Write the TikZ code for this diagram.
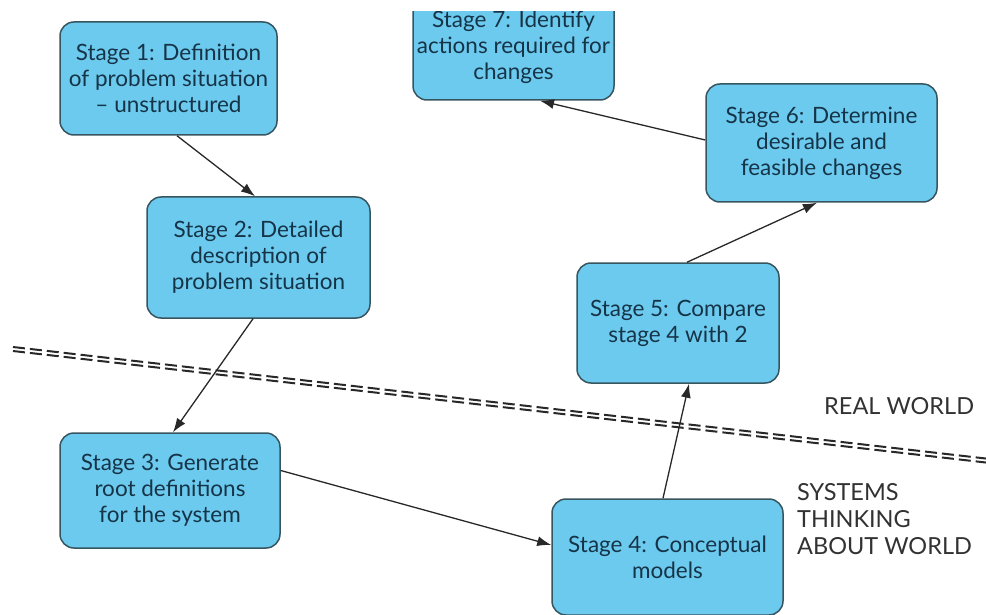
\documentclass[tikz,border=0pt]{standalone}
\usepackage{fontspec}
\setmainfont{Lato}
\usetikzlibrary{arrows.meta}
\definecolor{boxfill}{RGB}{108,202,238}
\definecolor{boxedge}{RGB}{55,85,95}
\definecolor{boxtext}{RGB}{22,52,72}
\definecolor{linkcol}{RGB}{40,40,40}
\definecolor{labelcol}{RGB}{50,50,50}
\begin{document}
\begin{tikzpicture}[x=1pt,y=-1pt,
  stagebox/.style={draw=boxedge, line width=1.5pt, fill=boxfill,
    rounded corners=14pt, align=center, text=boxtext, inner sep=0pt,
    font=\fontsize{22.5}{26}\selectfont},
  link/.style={draw=linkcol, line width=1.3pt,
    -{Latex[length=14pt,width=10pt]}},
  divider/.style={draw=linkcol, line width=2pt, dash pattern=on 12pt off 5pt},
  worldlabel/.style={text=labelcol, inner sep=0pt, align=left,
    font=\fontsize{23.5}{27}\selectfont}]
\useasboundingbox (0,0) rectangle (986,615);

% boundary between the real world and systems thinking
\coordinate (da) at (13,349);
\coordinate (db) at (990,461);
\draw[divider] ([yshift=2pt]da) -- ([yshift=2pt]db);
\draw[divider] ([yshift=-2pt]da) -- ([yshift=-2pt]db);

% the seven stages
\node[stagebox, minimum width=217pt, minimum height=113pt] (s1) at (168.5,78.5)
  {Stage 1: Definition\\of problem situation\\-- unstructured};
\node[stagebox, minimum width=223pt, minimum height=121pt] (s2) at (258.5,257.5)
  {Stage 2: Detailed\\description of\\problem situation};
\node[stagebox, minimum width=220pt, minimum height=115pt] (s3) at (170,490.5)
  {Stage 3: Generate\\root definitions\\for the system};
\node[stagebox, minimum width=231pt, minimum height=116pt] (s4) at (667.5,557)
  {Stage 4: Conceptual\\models};
\node[stagebox, minimum width=202pt, minimum height=120pt] (s5) at (678,323)
  {Stage 5: Compare\\stage 4 with 2};
\node[stagebox, minimum width=231pt, minimum height=118pt] (s6) at (821.5,143)
  {Stage 6: Determine\\desirable and\\feasible changes};
\node[stagebox, minimum width=201pt, minimum height=106pt] (s7) at (513.5,47)
  {Stage 7: Identify\\actions required for\\changes};
% the top margin trims stage 7
\fill[white] (380,-30) rectangle (650,11);

% flow between the stages
\draw[link] ([xshift=8.5pt]s1.south) -- ([xshift=-3.5pt]s2.north);
\draw[link] ([xshift=-5.5pt]s2.south) -- ([xshift=3pt]s3.north);
\draw[link] ([yshift=20pt]s3.east) -- ([yshift=12pt]s4.west);
\draw[link] ([xshift=-4.5pt]s4.north) -- ([xshift=11pt]s5.south);
\draw[link] ([xshift=9pt]s5.north) -- ([xshift=-4.5pt]s6.south);
\draw[link] ([yshift=3pt]s6.west) -- ([xshift=26.5pt]s7.south);

% world labels
\node[worldlabel, anchor=base west] (rw) at (824,414) {REAL WORLD};
\node[worldlabel, anchor=north west] (st) at (797,483)
  {SYSTEMS\\THINKING\\ABOUT WORLD};
\end{tikzpicture}
\end{document}
